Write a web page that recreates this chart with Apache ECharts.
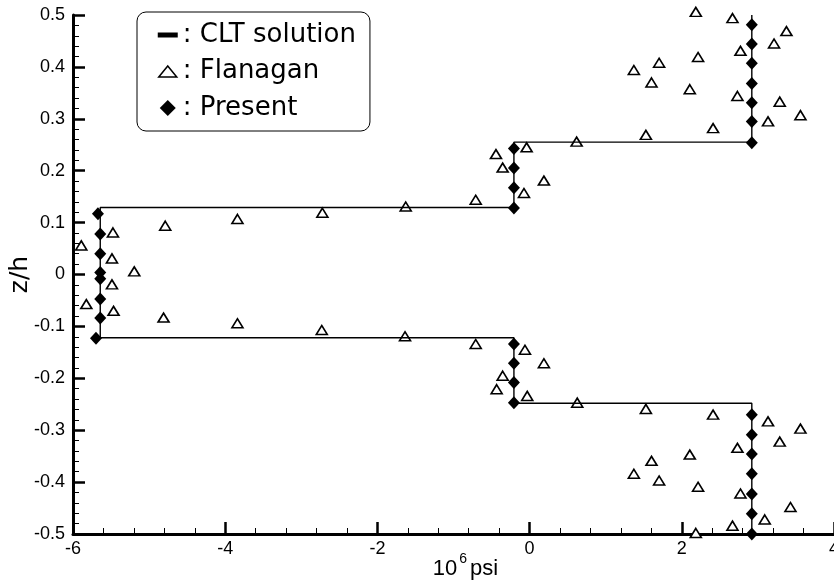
<!DOCTYPE html>
<html>
<head>
<meta charset="utf-8">
<script src="https://cdn.jsdelivr.net/npm/echarts@6/dist/echarts.min.js"></script>
<style>
html,body{margin:0;padding:0;background:#fff;}
#c{width:834px;height:583px;}
</style>
</head>
<body>
<div id="c"></div>
<script>
// CLT solution (step profile)
const cltX = [2.92, 2.92, -0.206, -0.206, -5.642, -5.642, -0.206, -0.206, 2.92, 2.92];
const cltZ = [0.5, 0.255, 0.255, 0.129, 0.129, -0.122, -0.122, -0.248, -0.248, -0.5];

// Flanagan (triangles)
const flanX = [
  -5.891, -5.475, -5.488, -5.195, -5.488, -5.825, -5.467,
  -4.788, -3.839, -2.723, -1.628, -0.708,
  -4.810, -3.839, -2.731, -1.637, -0.708,
  -0.074, 0.188, -0.354, -0.442, -0.039, 0.618,
  -0.061, 0.188, -0.354, -0.433, -0.031, 0.626,
  2.184, 2.666, 3.375, 3.212, 2.771, 2.214, 1.702, 1.370, 1.602, 2.105, 2.731, 3.287, 3.559, 3.133, 2.411, 1.528,
  1.528, 2.411, 3.133, 3.559, 3.287, 2.731, 2.105, 1.602, 1.370, 1.702, 2.214, 2.771, 3.428, 3.090, 2.666, 2.184
];
const flanZ = [
  0.056, 0.081, 0.031, 0.006, -0.019, -0.057, -0.070,
  0.094, 0.107, 0.119, 0.131, 0.144,
  -0.083, -0.094, -0.107, -0.119, -0.134,
  0.157, 0.181, 0.206, 0.232, 0.245, 0.256,
  -0.145, -0.171, -0.195, -0.221, -0.234, -0.247,
  0.506, 0.494, 0.469, 0.445, 0.431, 0.419, 0.408, 0.394, 0.370, 0.357, 0.344, 0.333, 0.307, 0.295, 0.282, 0.269,
  -0.259, -0.270, -0.283, -0.297, -0.322, -0.334, -0.347, -0.359, -0.384, -0.397, -0.409, -0.422, -0.448, -0.472, -0.484, -0.498
];

// Present (diamonds)
const presX = [
  2.92, 2.92, 2.92, 2.92, 2.92, 2.92, 2.92,
  -0.206, -0.206, -0.206, -0.206,
  -5.672, -5.642, -5.642, -5.642, -5.642, -5.642, -5.642, -5.698,
  -0.206, -0.206, -0.206, -0.206,
  2.92, 2.92, 2.92, 2.92, 2.92, 2.92, 2.92
];
const presZ = [
  0.481, 0.444, 0.407, 0.368, 0.331, 0.295, 0.254,
  0.243, 0.205, 0.167, 0.128,
  0.117, 0.078, 0.040, 0.004, -0.008, -0.047, -0.084, -0.123,
  -0.134, -0.171, -0.208, -0.247,
  -0.270, -0.309, -0.346, -0.384, -0.423, -0.461, -0.500
];

const seriesNames = ['CLT solution', 'Flanagan', 'Present'];
const xAxisTitle = '10';
const xAxisSup = '6';
const xAxisUnit = 'psi';
const yAxisTitle = 'z/h';

const zip = (a, b) => a.map((v, i) => [v, b[i]]);

const chart = echarts.init(document.getElementById('c'), null, {renderer: 'canvas'});
chart.setOption({
  animation: false,
  backgroundColor: '#fff',
  grid: {left: 73, right: 0, top: 15, bottom: 49, containLabel: false, outerBoundsMode: 'none'},
  legend: {
    orient: 'vertical',
    left: 137, top: 12,
    padding: [10, 14, 10, 20],
    itemGap: 10.5,
    itemWidth: 20, itemHeight: 20,
    backgroundColor: '#fff',
    borderColor: '#000', borderWidth: 1, borderRadius: 9,
    selectedMode: false,
    formatter: n => ': ' + n,
    textStyle: {fontFamily: 'DejaVu Sans', fontSize: 26, color: '#000', lineHeight: 25},
    data: [
      {name: seriesNames[0], icon: 'path://M0,0M0,7.5L20,7.5L20,12.5L0,12.5ZM20,20', itemStyle: {color: '#000', borderWidth: 0, opacity: 1}},
      {name: seriesNames[1], icon: 'path://M0,0M1,15.5L10,4.5L19,15.5ZM20,20', itemStyle: {color: '#fff', borderColor: '#000', borderWidth: 1.5, opacity: 1}},
      {name: seriesNames[2], icon: 'path://M0,0M10,2L18,10L10,18L2,10ZM20,20', itemStyle: {color: '#000', borderWidth: 0, opacity: 1}}
    ]
  },
  xAxis: {
    type: 'value', min: -6, max: 4, interval: 2,
    axisLine: {onZero: false, lineStyle: {color: '#000', width: 3}},
    axisTick: {inside: true, length: 12, lineStyle: {color: '#000', width: 2.5}},
    minorTick: {show: true, splitNumber: 5, length: 6, lineStyle: {color: '#000', width: 1}},
    splitLine: {show: false},
    axisLabel: {margin: 6, color: '#000', fontFamily: 'Liberation Sans', fontSize: 18},
    name: '{a|' + xAxisTitle + '}{b|' + xAxisSup + '}{a|' + xAxisUnit + '}',
    nameLocation: 'middle', nameGap: 18, nameMoveOverlap: false,
    nameTextStyle: {
      padding: [0, 0, 0, 24],
      rich: {
        a: {fontFamily: 'Liberation Sans', fontSize: 22, color: '#000', lineHeight: 34, verticalAlign: 'middle'},
        b: {fontFamily: 'Liberation Sans', fontSize: 14, color: '#000', lineHeight: 16, verticalAlign: 'top', padding: [0, 3, 0, 2]}
      }
    }
  },
  yAxis: {
    type: 'value', min: -0.5, max: 0.5, interval: 0.1,
    axisLine: {onZero: false, lineStyle: {color: '#000', width: 3}},
    axisTick: {inside: true, length: 12, lineStyle: {color: '#000', width: 2.5}},
    minorTick: {show: true, splitNumber: 5, length: 6, lineStyle: {color: '#000', width: 1}},
    splitLine: {show: false},
    axisLabel: {margin: 8, color: '#000', fontFamily: 'Liberation Sans', fontSize: 18,
      formatter: v => Math.abs(v) < 1e-9 ? '0' : v.toFixed(1)},
    name: yAxisTitle, nameLocation: 'middle', nameGap: 40, nameRotate: 90, nameMoveOverlap: false,
    nameTextStyle: {fontFamily: 'DejaVu Sans', fontSize: 25, color: '#000'}
  },
  series: [
    {
      name: seriesNames[0], type: 'line', data: zip(cltX, cltZ),
      symbol: 'none', silent: true,
      lineStyle: {color: '#000', width: 1.4},
      itemStyle: {color: '#000'}
    },
    {
      name: seriesNames[1], type: 'scatter', data: zip(flanX, flanZ),
      symbol: 'triangle', symbolSize: [11, 9], clip: false,
      itemStyle: {color: '#fff', borderColor: '#000', borderWidth: 1.6, opacity: 1}
    },
    {
      name: seriesNames[2], type: 'scatter', data: zip(presX, presZ),
      symbol: 'diamond', symbolSize: [12, 13], clip: false,
      itemStyle: {color: '#000', opacity: 1}
    }
  ]
});
</script>
</body>
</html>
